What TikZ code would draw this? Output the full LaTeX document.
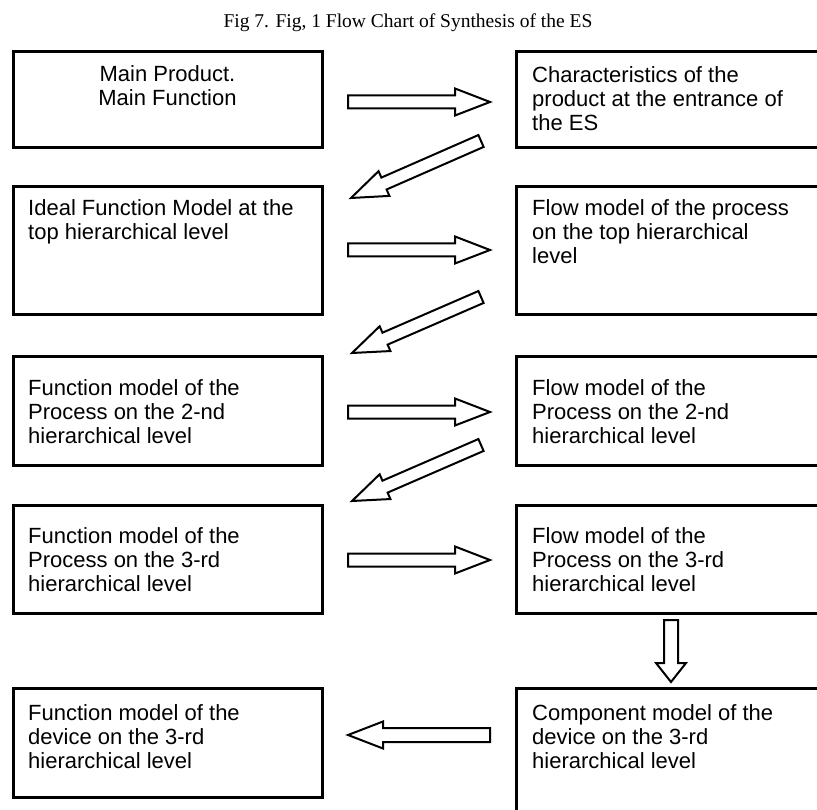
\documentclass[tikz,border=0pt]{standalone}
\usepackage{fontspec}
\setmainfont{Liberation Serif}
\setsansfont{Liberation Sans}
\usetikzlibrary{calc}

\tikzset{
  box/.style={draw, line width=3pt, inner sep=0pt, outer sep=0pt, anchor=north west},
  boxtext/.style={anchor=north west, inner sep=0pt, align=left,
    font=\sffamily\fontsize{22}{24}\selectfont},
  arrowbody/.style={draw, fill=white, line width=2pt, line join=miter},
  caption/.style={anchor=base, inner sep=0pt, font=\rmfamily\fontsize{19.5}{22}\selectfont},
}

% hollow block arrow from #1 to #2; head length #3, head half-width #4, shaft half-width #5
\newcommand\blockarrow[5]{%
  \draw[arrowbody] let \p1=($(#2)-(#1)$), \n1={atan2(\y1,\x1)}, \n2={veclen(\x1,\y1)} in
    [shift={(#1)}, rotate=\n1]
    (0,-#5) -- (\n2-#3,-#5) -- (\n2-#3,-#4) -- (\n2,0) -- (\n2-#3,#4) -- (\n2-#3,#5) -- (0,#5) -- cycle;}

\begin{document}
\begin{tikzpicture}[x=1pt, y=-1pt]
\useasboundingbox (0,0) rectangle (817,810);
\clip (0,0) rectangle (817,810);

\node[caption] (title) at (408,28) {Fig 7. Fig, 1 Flow Chart of Synthesis of the ES};

% boxes
\node[box, minimum width=309pt, minimum height=96pt]  (L1) at (13,52)  {};
\node[box, minimum width=312pt, minimum height=96pt]  (R1) at (516,52) {};
\node[box, minimum width=309pt, minimum height=128pt] (L2) at (13,187)  {};
\node[box, minimum width=312pt, minimum height=128pt] (R2) at (516,187) {};
\node[box, minimum width=309pt, minimum height=108pt] (L3) at (13,357)  {};
\node[box, minimum width=312pt, minimum height=108pt] (R3) at (516,357) {};
\node[box, minimum width=309pt, minimum height=108pt] (L4) at (13,505)  {};
\node[box, minimum width=312pt, minimum height=108pt] (R4) at (516,505) {};
\node[box, minimum width=309pt, minimum height=109pt] (L5) at (13,688)  {};
\node[box, minimum width=312pt, minimum height=140pt] (R5) at (516,688) {};

% box texts
\node[boxtext, anchor=north, align=center] (tL1) at (167.5,65) {Main Product.\\Main Function};
\node[boxtext] (tR1) at (532,66) {Characteristics of the\\product at the entrance of\\the ES};
\node[boxtext] (tL2) at (28,199) {Ideal Function Model at the\\top hierarchical level};
\node[boxtext] (tR2) at (532,199) {Flow model of the process\\on the top hierarchical\\level};
\node[boxtext] (tL3) at (28,379) {Function model of the\\Process on the 2-nd\\hierarchical level};
\node[boxtext] (tR3) at (532,379) {Flow model of the\\Process on the 2-nd\\hierarchical level};
\node[boxtext] (tL4) at (28,527) {Function model of the\\Process on the 3-rd\\hierarchical level};
\node[boxtext] (tR4) at (532,527) {Flow model of the\\Process on the 3-rd\\hierarchical level};
\node[boxtext] (tL5) at (28,704) {Function model of the\\device on the 3-rd\\hierarchical level};
\node[boxtext] (tR5) at (532,704) {Component model of the\\device on the 3-rd\\hierarchical level};

% arrow end points
\coordinate (h1s) at (348,102); \coordinate (h1e) at (490,102);
\coordinate (d1s) at (481,141); \coordinate (d1e) at (351,198);
\coordinate (h2s) at (348,250); \coordinate (h2e) at (490,250);
\coordinate (d2s) at (481,297); \coordinate (d2e) at (352,353);
\coordinate (h3s) at (348,412); \coordinate (h3e) at (490,412);
\coordinate (d3s) at (481,445); \coordinate (d3e) at (352,501);
\coordinate (h4s) at (348,560); \coordinate (h4e) at (490,560);
\coordinate (vs)  at (671,620); \coordinate (ve)  at (671,682);
\coordinate (h5s) at (490,735); \coordinate (h5e) at (348,735);

\blockarrow{h1s}{h1e}{35}{13.5}{6.5}
\blockarrow{d1s}{d1e}{36}{13.5}{6.5}
\blockarrow{h2s}{h2e}{35}{13.5}{6.5}
\blockarrow{d2s}{d2e}{36}{13.5}{6.5}
\blockarrow{h3s}{h3e}{35}{13.5}{6.5}
\blockarrow{d3s}{d3e}{36}{13.5}{6.5}
\blockarrow{h4s}{h4e}{35}{13.5}{6.5}
\blockarrow{vs}{ve}{19}{15}{7}
\blockarrow{h5s}{h5e}{35}{13.5}{7}
\end{tikzpicture}
\end{document}
